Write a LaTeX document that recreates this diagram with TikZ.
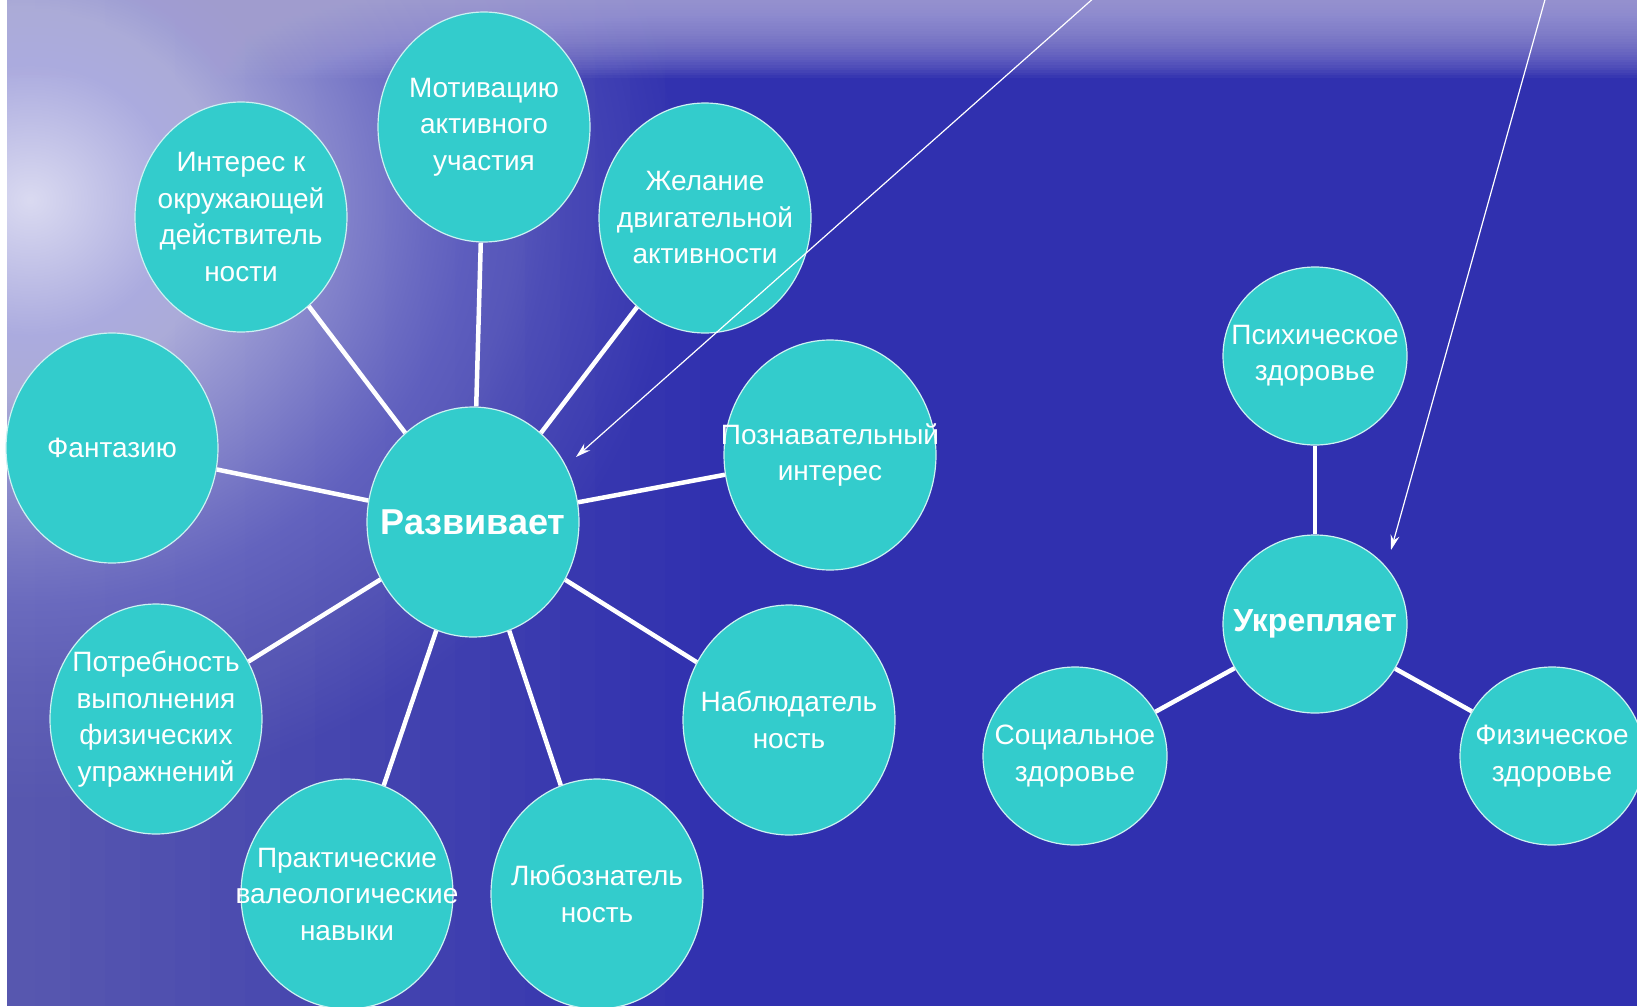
\documentclass[tikz,border=0pt]{standalone}
\usepackage{fontspec}
\setmainfont{Liberation Sans}
\usepackage{tikz}
\usetikzlibrary{shapes.geometric, arrows.meta}

\definecolor{sea}{RGB}{48,48,175}
\definecolor{haze}{RGB}{176,172,222}
\definecolor{turq}{RGB}{51,204,204}

% glare of the sun on the water, top left
\pgfdeclareradialshading{glare}{\pgfpointorigin}{%
  color(0bp)=(white!82!sea); color(5bp)=(white!62!sea); color(10bp)=(white!42!sea);
  color(15bp)=(white!24!sea); color(20bp)=(white!9!sea); color(25bp)=(sea);
  color(50bp)=(sea)}

\tikzstyle{arrow} = [white, line width=1.2pt, -{Stealth[length=15pt, width=9pt]}]
\tikzstyle{link} = [white, line width=4.5pt]
\tikzstyle{bubble} = [ellipse, draw=white!75!turq, line width=1.2pt, fill=turq, inner sep=0pt, minimum width=212pt, minimum height=230pt]
\tikzstyle{bubblesm} = [bubble, minimum width=184pt, minimum height=178pt]
\tikzstyle{txt} = [text=white, align=center, inner sep=0pt, font=\fontsize{28}{36.5}\selectfont]
\tikzstyle{hub} = [txt, font=\fontsize{36}{40}\selectfont\bfseries]
\tikzstyle{hubsm} = [txt, font=\fontsize{32}{40}\selectfont\bfseries]

\begin{document}
\begin{tikzpicture}[x=1pt, y=-1pt]
  \useasboundingbox (0,0) rectangle (1637,1006);

  % sea background with glare on the left and haze on top
  \fill[sea] (0,0) rectangle (1637,1006);
  \shade[shading=glare] (30,200) ellipse [x radius=650, y radius=600];
  \foreach \i in {1,...,20}
    \fill[white, opacity=0.012] (0,0) rectangle (35*\i,1006);
  \foreach \i in {1,...,30}
    \fill[haze, opacity=0.06] (0,0) rectangle (1637,2.6*\i);
  \fill[white] (0,0) rectangle (7,1006);

  % Razvivaet group
  \node[bubble, label={[hub]center:Развивает}] (dev) at (473,522) {};
  \node[bubble, label={[txt]center:{Мотивацию\\активного\\участия}}] (motiv) at (484,127) {};
  \node[bubble, label={[txt]center:{Интерес к\\окружающей\\действитель\\ности}}] (interest) at (241,217) {};
  \node[bubble, label={[txt]center:{Желание\\двигательной\\активности}}] (wish) at (705,218) {};
  \node[bubble, label={[txt]center:Фантазию}] (fantasy) at (112,448) {};
  \node[bubble, label={[txt]center:{Познавательный\\интерес}}] (cognit) at (830,455) {};
  \node[bubble, label={[txt]center:{Потребность\\выполнения\\физических\\упражнений}}] (need) at (156,719) {};
  \node[bubble, label={[txt]center:{Наблюдатель\\ность}}] (observ) at (789,720) {};
  \node[bubble, label={[txt]center:{Практические\\валеологические\\навыки}}] (skills) at (347,894) {};
  \node[bubble, label={[txt]center:{Любознатель\\ность}}] (curios) at (597,894) {};

  \foreach \n in {motiv, interest, wish, fantasy, cognit, need, observ, skills, curios}
    \draw[link] (dev) -- (\n);

  % Ukreplyaet group
  \node[bubblesm, label={[hubsm]center:Укрепляет}] (str) at (1315,624) {};
  \node[bubblesm, label={[txt]center:{Психическое\\здоровье}}] (psych) at (1315,356) {};
  \node[bubblesm, label={[txt]center:{Социальное\\здоровье}}] (social) at (1075,756) {};
  \node[bubblesm, label={[txt]center:{Физическое\\здоровье}}] (phys) at (1552,756) {};

  \foreach \n in {psych, social, phys}
    \draw[link] (str) -- (\n);

  % pointers from the top edge
  \coordinate (p1) at (1096,-4);
  \coordinate (t1) at (576,457);
  \coordinate (p2) at (1546,-4);
  \coordinate (t2) at (1391,550);
  \draw[arrow] (p1) -- (t1);
  \draw[arrow] (p2) -- (t2);
\end{tikzpicture}
\end{document}
